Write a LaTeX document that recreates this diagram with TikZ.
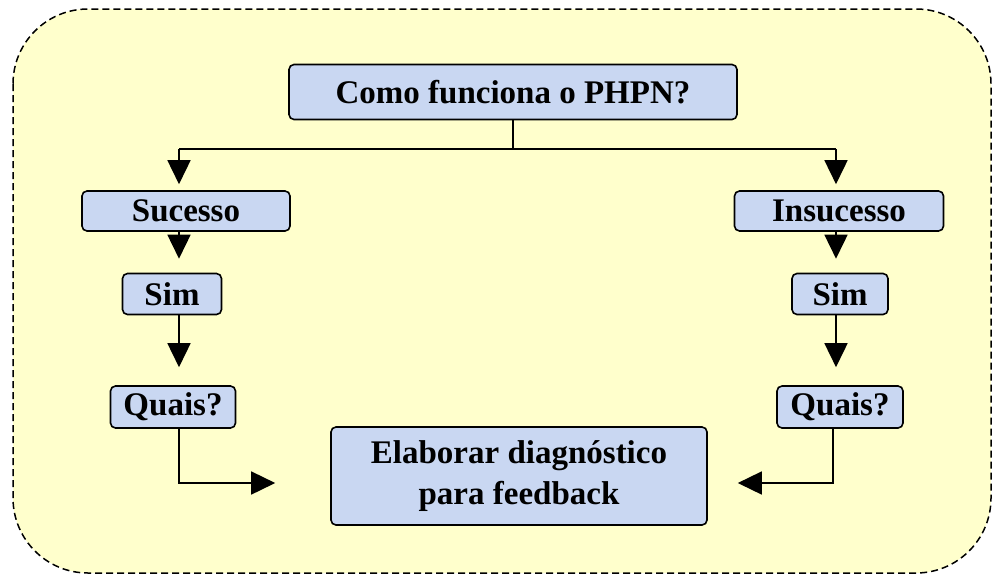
\documentclass[tikz,border=0pt]{standalone}
\usepackage{fontspec}
\setmainfont{Liberation Serif}
\usetikzlibrary{arrows.meta}
\definecolor{boxblue}{HTML}{C9D7F2}
\definecolor{paleyellow}{HTML}{FFFFCC}

\begin{document}
\begin{tikzpicture}[x=1pt,y=-1pt]
        \begin{scope}
            \tikzset{fbox/.style = {
                draw=black,
                line width=1.6pt,
                fill=boxblue,
                rounded corners=5pt,
                inner sep=0pt,
                align=center,
                font=\fontsize{33}{41}\selectfont\bfseries } }
            \tikzset{fline/.style = {
                draw=black,
                line width=1.6pt} }
            \tikzset{fedge/.style = {
                fline,
                -{Triangle[length=24pt,width=23pt]}} }
                \useasboundingbox (0,0) rectangle (992,576);
                \draw[dash pattern=on 7pt off 4pt, line width=1.5pt, fill=paleyellow, rounded corners=75pt] (13,9) rectangle (991,573);
                % top question
                \node[fbox, minimum width=448pt, minimum height=55pt] (como) at (513,92) {Como funciona o PHPN?};
                \coordinate (jL) at (179,149);
                \coordinate (jR) at (836,149);
                % two columns
                \node[fbox, minimum width=208pt, minimum height=40pt] (suc) at (186,211) {Sucesso};
                \node[fbox, minimum width=99pt, minimum height=41pt] (simL) at (172,294) {Sim};
                \node[fbox, minimum width=125pt, minimum height=42pt] (quaisL) at (173,407) {Quais?};
                \node[fbox, minimum width=209pt, minimum height=40pt] (insuc) at (839,211) {Insucesso};
                \node[fbox, minimum width=96pt, minimum height=41pt] (simR) at (840,294) {Sim};
                \node[fbox, minimum width=126pt, minimum height=42pt] (quaisR) at (840,407) {Quais?};
                % result
                \node[fbox, minimum width=376pt, minimum height=98pt] (elab) at (519,476) {Elaborar diagnóstico\\para feedback};
                \coordinate (hL) at (179,483);
                \coordinate (hR) at (833,483);
                % connectors
                \path[fline] (como.south) -- (como.south |- jL);
                \path[fline] (jL) -- (jR);
                \path[fedge, shorten >=6pt] (jL) -- (jL |- suc.north);
                \path[fedge, shorten >=6pt] (jR) -- (jR |- insuc.north);
                \path[fedge, shorten >=14pt] (suc.south -| jL) -- (simL.north -| jL);
                \path[fedge, shorten >=14pt] (insuc.south -| jR) -- (simR.north -| jR);
                \path[fedge, shorten >=18pt] (simL.south -| jL) -- (quaisL.north -| jL);
                \path[fedge, shorten >=18pt] (simR.south -| jR) -- (quaisR.north -| jR);
                \path[fedge, shorten >=55pt] (quaisL.south -| hL) -- (hL) -- (hL -| elab.west);
                \path[fedge, shorten >=30pt] (quaisR.south -| hR) -- (hR) -- (hR -| elab.east);
        \end{scope}
    \end{tikzpicture}
\end{document}
